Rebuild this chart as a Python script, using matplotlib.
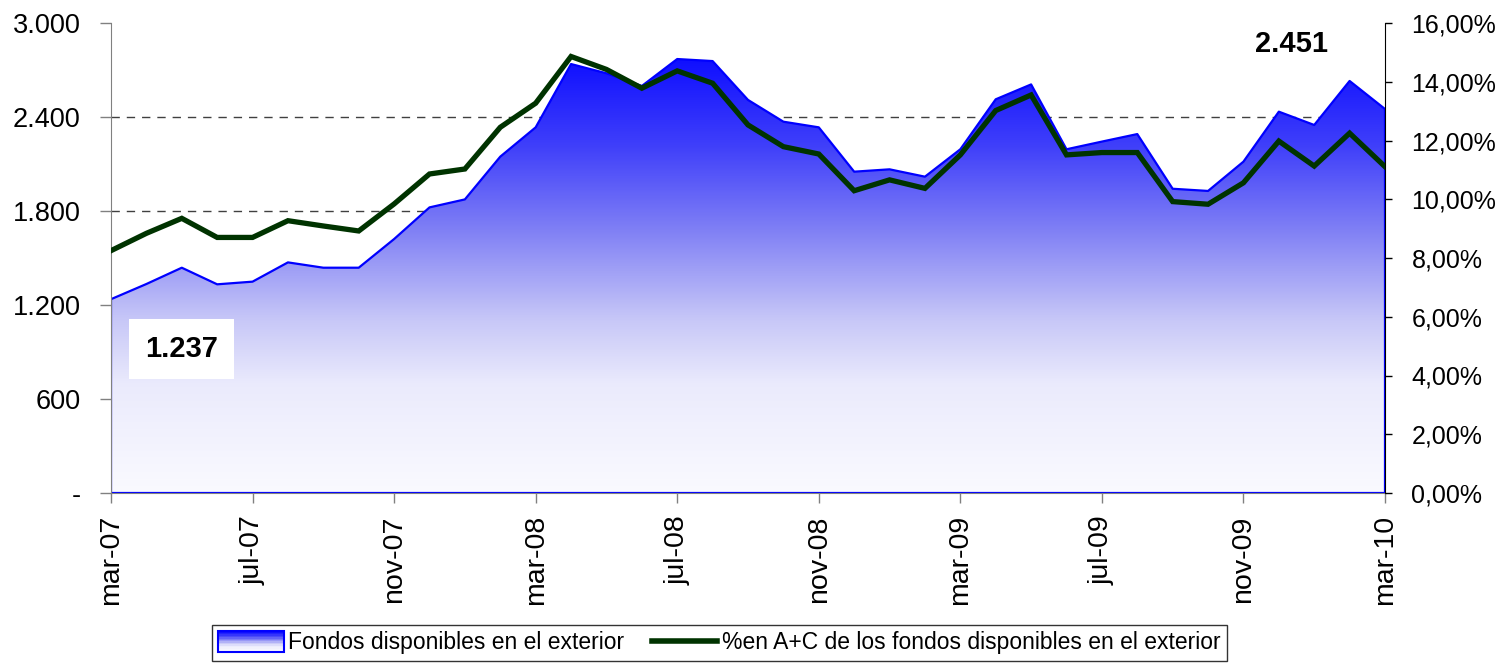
import numpy as np
import matplotlib
matplotlib.use("Agg")
import matplotlib.pyplot as plt
from matplotlib.colors import LinearSegmentedColormap
from matplotlib.patches import Rectangle
from matplotlib.lines import Line2D
from matplotlib.legend_handler import HandlerBase

plt.rcParams['font.family'] = ['Liberation Sans', 'DejaVu Sans']

# ---- data ----
fondos = [1237, 1334, 1438, 1332, 1349, 1472, 1438, 1438, 1621, 1823, 1874, 2147,
          2334, 2738, 2679, 2598, 2770, 2757, 2509, 2370, 2334, 2051, 2066, 2019,
          2194, 2513, 2608, 2194, 2243, 2291, 1942, 1928, 2115, 2434, 2349, 2630, 2451]
pct = [8.25, 8.84, 9.35, 8.70, 8.70, 9.27, 9.09, 8.92, 9.84, 10.86, 11.03, 12.45,
       13.27, 14.86, 14.42, 13.78, 14.37, 13.95, 12.53, 11.79, 11.54, 10.29, 10.66, 10.37,
       11.51, 13.02, 13.55, 11.51, 11.59, 11.59, 9.92, 9.83, 10.56, 11.98, 11.13, 12.25, 11.11]
xtick_labels = ['mar-07', 'jul-07', 'nov-07', 'mar-08', 'jul-08', 'nov-08',
                'mar-09', 'jul-09', 'nov-09', 'mar-10']
left_ticks = [0, 600, 1200, 1800, 2400, 3000]
left_labels = ['-', '600', '1.200', '1.800', '2.400', '3.000']
right_ticks = [0, 2, 4, 6, 8, 10, 12, 14, 16]
legend_labels = ['Fondos disponibles en el exterior',
                 '%en A+C de los fondos disponibles en el exterior']
first_label = '1.237'
last_label = '2.451'

x = np.arange(len(fondos))
BLUE = '#0000ff'
GREEN = '#003300'

fig = plt.figure(figsize=(15.04, 6.65), dpi=100)
ax = fig.add_axes([111/1504, 1-493/665, (1385-111)/1504, (493-23)/665])
ax2 = ax.twinx()
ax.set_zorder(1)
ax2.set_zorder(2)
ax.patch.set_visible(False)
ax2.patch.set_visible(False)

# gridlines (behind area)
for v in left_ticks[1:-1]:
    ax.axhline(v, color='#404040', lw=1.0, ls=(0, (6, 5)), zorder=0)

# gradient area: white at bottom -> blue at top
stops = [(0.0, (0.98, 0.98, 1.0)), (0.25, (0.92, 0.92, 0.99)), (0.4, (0.78, 0.78, 0.97)),
         (0.6, (0.51, 0.51, 0.96)), (0.8, (0.25, 0.25, 0.98)), (1.0, (0.06, 0.06, 1.0))]
cmap = LinearSegmentedColormap.from_list('g', stops)
top = max(fondos)
grad = np.linspace(0, 1, 256).reshape(-1, 1)
img = ax.imshow(grad, cmap=cmap, origin='lower', aspect='auto',
                extent=[x[0], x[-1], 0, top], zorder=1)
poly = ax.fill_between(x, 0, fondos, facecolor='none', edgecolor=BLUE, lw=1.6, zorder=2)
img.set_clip_path(poly.get_paths()[0], transform=ax.transData)

ax.set_xlim(x[0], x[-1])
ax.set_ylim(0, 3000)
ax.set_yticks(left_ticks)
ax.set_yticklabels(left_labels)
ax.set_xticks(x[::4])
ax.set_xticklabels(xtick_labels, rotation=90)

ax2.plot(x, pct, color=GREEN, lw=3.8, solid_joinstyle='miter', zorder=3)
ax2.set_ylim(0, 16)
ax2.set_yticks(right_ticks)
ax2.set_yticklabels([f'{v:.2f}%'.replace('.', ',') for v in right_ticks])

for a in (ax, ax2):
    a.tick_params(length=7, width=1, direction='out', colors='black')
    for s in a.spines.values():
        s.set_visible(False)
ax.spines['left'].set_visible(True)
ax.spines['left'].set_color('#808080')
ax.spines['bottom'].set_visible(True)
ax.spines['bottom'].set_color('#808080')
ax2.spines['right'].set_visible(True)
ax2.spines['right'].set_color('black')
ax.tick_params(axis='y', color='#808080', labelsize=19.5, length=8, pad=14)
ax.tick_params(axis='x', color='#808080', labelsize=20.5, length=7, pad=9)
ax2.tick_params(axis='y', labelsize=18, length=5, pad=14)

# annotations
ax.text(1.98, 919, first_label, fontsize=21, fontweight='bold', ha='center', va='center',
        zorder=5, bbox=dict(boxstyle='square,pad=0.55', fc='white', ec='none'))
ax2.text(33.35, 15.3, last_label, fontsize=21, fontweight='bold', ha='center', va='center', zorder=5)


class GradientHandler(HandlerBase):
    def create_artists(self, legend, orig_handle, xdescent, ydescent, width, height, fontsize, trans):
        arts = []
        n = 14
        h = height * 1.25
        y0 = -ydescent - (h - height) / 2
        for i in range(n):
            c = cmap(i / (n - 1))
            r = Rectangle((-xdescent, y0 + h * i / n), width, h / n,
                          facecolor=c, edgecolor='none', transform=trans)
            arts.append(r)
        border = Rectangle((-xdescent, y0), width, h, facecolor='none',
                           edgecolor=BLUE, lw=1.5, transform=trans)
        arts.append(border)
        return arts


area_handle = Rectangle((0, 0), 1, 1)
line_handle = Line2D([], [], color=GREEN, lw=4)
leg = fig.legend([area_handle, line_handle], legend_labels, loc='center',
                 bbox_to_anchor=(719.5/1504, 1-643/665), ncol=2, fontsize=16.5,
                 frameon=True, fancybox=False, edgecolor='black', handlelength=2.85,
                 handletextpad=0.2, columnspacing=1.2, borderpad=0.3, borderaxespad=0,
                 handler_map={Rectangle: GradientHandler()})
leg.get_frame().set_linewidth(1.0)

fig.savefig('out.png', dpi=100)
